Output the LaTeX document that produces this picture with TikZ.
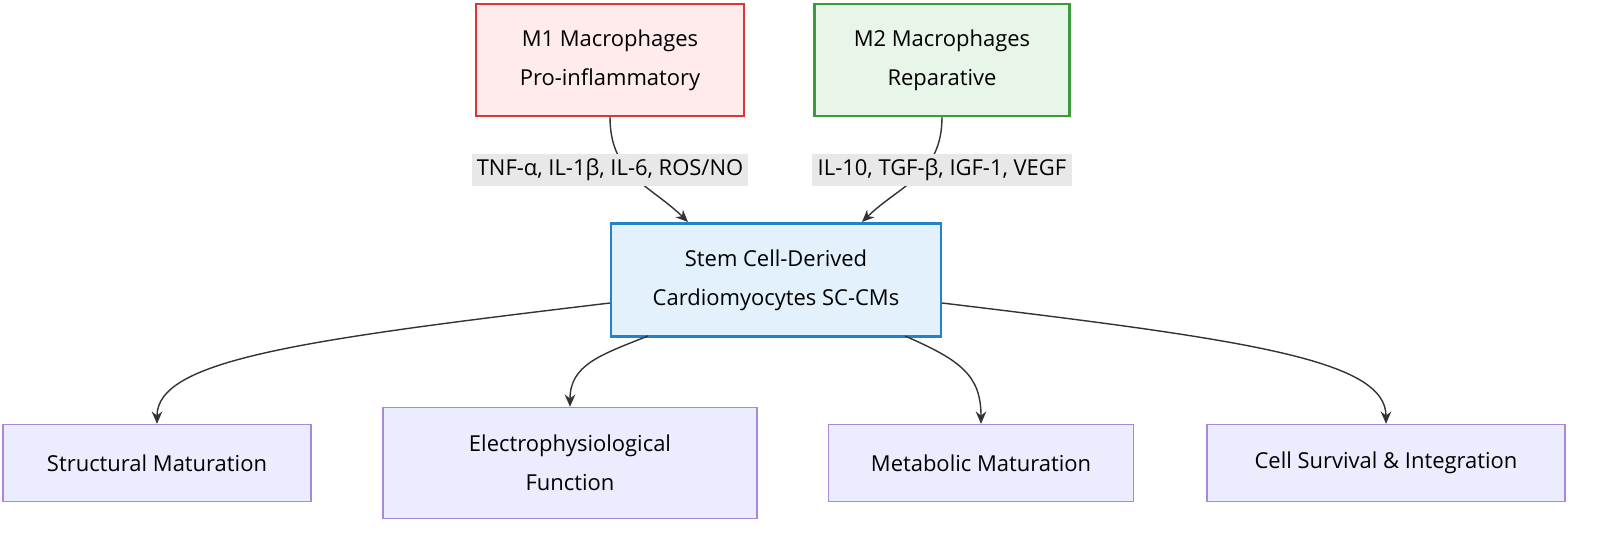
\documentclass[tikz,border=0pt]{standalone}
\usepackage{fontspec}
\setmainfont{Open Sans}
\usetikzlibrary{arrows.meta,positioning}
\definecolor{mred}{RGB}{255,234,236}
\definecolor{mredline}{RGB}{220,55,55}
\definecolor{mgreen}{RGB}{232,245,233}
\definecolor{mgreenline}{RGB}{60,155,60}
\definecolor{cblue}{RGB}{226,241,252}
\definecolor{cblueline}{RGB}{35,130,200}
\definecolor{outbox}{RGB}{236,236,255}
\definecolor{outline}{RGB}{170,135,215}
\definecolor{lblbg}{RGB}{232,232,232}
\tikzset{
  box/.style={draw, line width=1.2pt, align=center, font=\fontsize{12.5}{22}\selectfont, inner sep=0pt},
  outcome/.style={box, fill=outbox, draw=outline, line width=0.8pt},
  lbl/.style={fill=lblbg, inner sep=3pt, font=\fontsize{12.5}{15}\selectfont},
  link/.style={draw=black!80, line width=0.8pt, -{Stealth[length=7pt,width=6pt]}}
}
\begin{document}
\begin{tikzpicture}[x=0.02cm,y=-0.02cm]
\useasboundingbox (0,0) rectangle (1600,534);
% macrophage sources
\node[box, fill=mred, draw=mredline, minimum width=5.36cm, minimum height=2.24cm] (mone) at (610,60) {M1 Macrophages\\Pro-inflammatory};
\node[box, fill=mgreen, draw=mgreenline, minimum width=5.1cm, minimum height=2.24cm] (mtwo) at (942,60) {M2 Macrophages\\Reparative};
% target cells
\node[box, fill=cblue, draw=cblueline, minimum width=6.6cm, minimum height=2.26cm] (sccm) at (776,280) {Stem Cell-Derived\\Cardiomyocytes SC-CMs};
% outcomes
\node[outcome, minimum width=6.16cm, minimum height=1.54cm] (struct) at (157,463) {Structural Maturation};
\node[outcome, minimum width=7.48cm, minimum height=2.22cm] (electro) at (570,463) {Electrophysiological\\Function};
\node[outcome, minimum width=6.1cm, minimum height=1.54cm] (metab) at (981,463) {Metabolic Maturation};
\node[outcome, minimum width=7.16cm, minimum height=1.54cm] (surv) at (1386,463) {Cell Survival \& Integration};
% signals
\draw[link] (mone.south) .. controls (610,175) and (650,185) .. (688,222);
\draw[link] (mtwo.south) .. controls (942,175) and (900,185) .. (862,222);
\node[lbl] (sigone) at (610,170) {TNF-α, IL-1β, IL-6, ROS/NO};
\node[lbl] (sigtwo) at (942,170) {IL-10, TGF-β, IGF-1, VEGF};
% effects
\draw[link] (sccm.west |- 0,303) .. controls (300,340) and (157,360) .. (struct.north);
\draw[link] (648,336) .. controls (600,355) and (570,365) .. (electro.north);
\draw[link] (905,336) .. controls (960,360) and (981,375) .. (metab.north);
\draw[link] (sccm.east |- 0,303) .. controls (1250,340) and (1386,360) .. (surv.north);
\end{tikzpicture}
\end{document}
